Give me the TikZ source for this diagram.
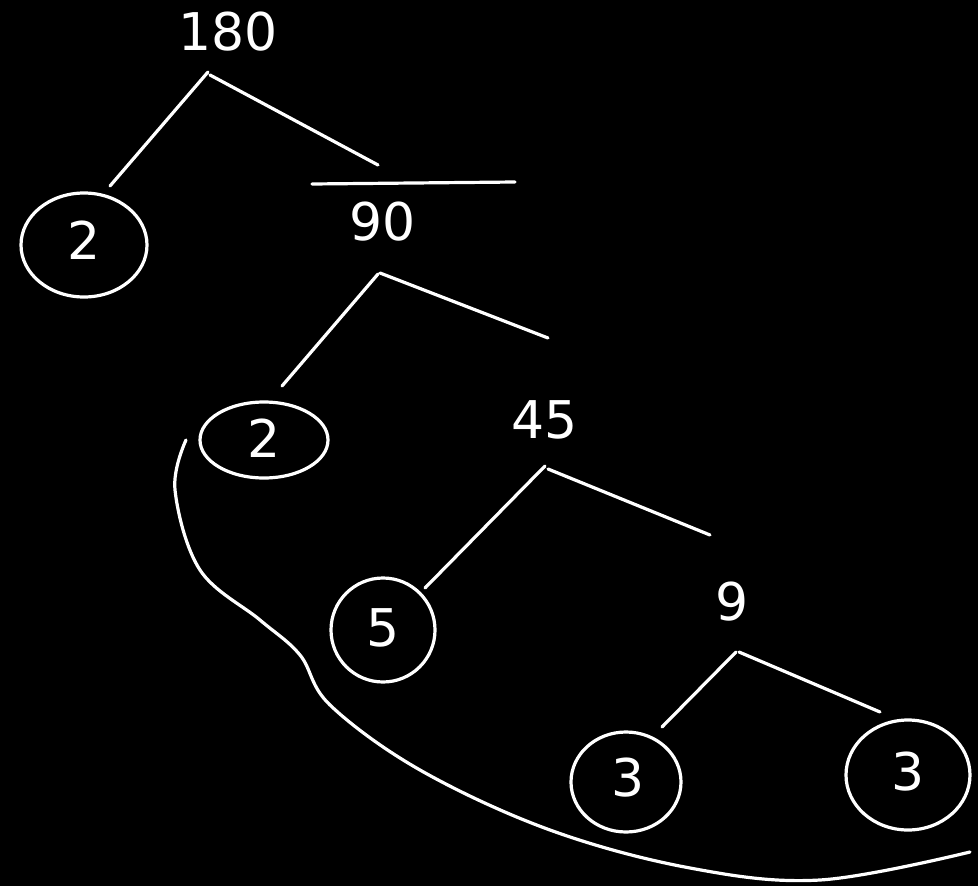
\documentclass[tikz,border=0pt]{standalone}
\usepackage{fontspec}
\setmainfont{DejaVu Sans}
\begin{document}
\begin{tikzpicture}[x=1pt,y=-1pt,
  ink/.style={draw=white,line width=3.2pt,line cap=round},
  num/.style={text=white,font=\fontsize{52}{52}\selectfont\fontseries{l}},
  ring/.style={ink,ellipse}]
\fill[black] (0,0) rectangle (978,886);
\useasboundingbox (0,0) rectangle (978,886);
% numbers
\node[num] (n180) at (228,32) {180};
\node[num] (n90) at (383,222) {90};
\node[num] (n45) at (545,420) {45};
\node[num] (n9) at (732,602) {9};
\node[num] (c2a) at (84,240) {2};
\node[num] (c2b) at (264,438) {2};
\node[num] (c5) at (383,628) {5};
\node[num] (c3a) at (628,778) {3};
\node[num] (c3b) at (908,772) {3};
% rings
\draw[ink] (c2a.center) ++(0,5) ellipse [x radius=63, y radius=52];
\draw[ink] (c2b.center) ++(0,2) ellipse [x radius=64, y radius=38];
\draw[ink] (c5.center) ++(0,2) ellipse [x radius=52, y radius=52];
\draw[ink] (c3a.center) ++(-2,4) ellipse [x radius=55, y radius=50];
\draw[ink] (c3b.center) ++(0,3) ellipse [x radius=62, y radius=55];
% branches
\coordinate (a1) at (208,72); \coordinate (a2) at (110,186);
\coordinate (a3) at (210,75); \coordinate (a4) at (378,165);
\draw[ink] (a1) -- (a2);
\draw[ink] (a3) -- (a4);
\coordinate (bar1) at (312,184); \coordinate (bar2) at (515,182);
\draw[ink] (bar1) -- (bar2);
\coordinate (b1) at (378,274); \coordinate (b2) at (282,386);
\coordinate (b3) at (380,273); \coordinate (b4) at (548,338);
\draw[ink] (b1) -- (b2);
\draw[ink] (b3) -- (b4);
\coordinate (d1) at (545,466); \coordinate (d2) at (425,588);
\coordinate (d3) at (548,469); \coordinate (d4) at (710,535);
\draw[ink] (d1) -- (d2);
\draw[ink] (d3) -- (d4);
\coordinate (e1) at (736,652); \coordinate (e2) at (662,727);
\coordinate (e3) at (739,652); \coordinate (e4) at (880,712);
\draw[ink] (e1) -- (e2);
\draw[ink] (e3) -- (e4);
% enclosing curve
\draw[ink] plot[smooth,tension=0.6] coordinates {(186,440) (175,490) (200,570) (260,620) (300,655) (330,705) (420,770) (550,830) (690,868) (820,880) (970,852)};
\end{tikzpicture}
\end{document}
